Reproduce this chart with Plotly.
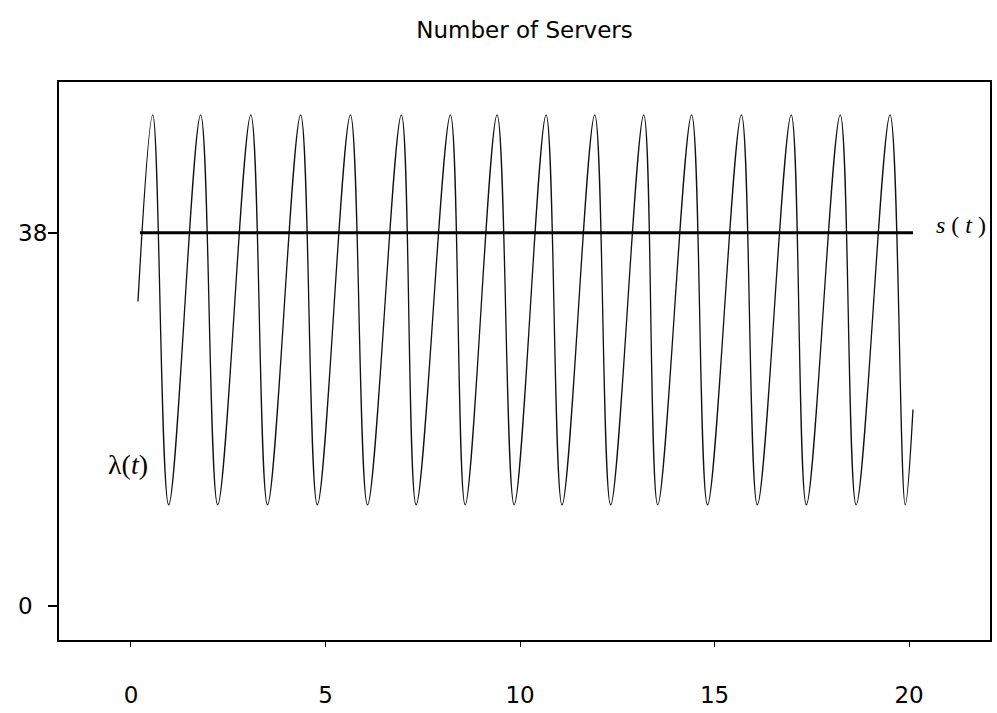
import plotly.graph_objects as go

# Peak / trough times (t) and values
peak_t = [0.56, 1.79, 3.08, 4.36, 5.64, 6.95, 8.21, 9.41, 10.67, 11.92, 13.18, 14.41, 15.69, 16.97, 18.23, 19.51]
trough_t = [0.97, 2.23, 3.51, 4.79, 6.08, 7.33, 8.59, 9.85, 11.08, 12.33, 13.54, 14.82, 16.10, 17.36, 18.64, 19.90]
peak_val = 50.0
trough_val = 10.3
start_t, start_val = 0.18, 31.0
end_t, end_val = 20.1, 20.0

s_t = [0.23, 20.1]
s_val = [38.0, 38.0]

x_ticks = [0, 5, 10, 15, 20]
y_ticks = [0, 38]

# build the lambda(t) polyline from the read extrema
lam_t = [start_t]
lam_v = [start_val]
for p, tr in zip(peak_t, trough_t):
    lam_t += [p, tr]
    lam_v += [peak_val, trough_val]
lam_t.append(end_t)
lam_v.append(end_val)

FONT = "DejaVu Sans"

fig = go.Figure()
fig.add_trace(go.Scatter(x=lam_t, y=lam_v, mode="lines", line=dict(color="#111", width=1.3, shape="spline", smoothing=1.0),
                         showlegend=False, hoverinfo="skip"))
fig.add_trace(go.Scatter(x=s_t, y=s_val, mode="lines", line=dict(color="#000", width=2.8),
                         showlegend=False, hoverinfo="skip"))

fig.add_annotation(x=20.65, y=38.8, xref="x", yref="y", text="<i>s</i> ( <i>t</i> )", showarrow=False,
                   xanchor="left", yanchor="middle", font=dict(family="Liberation Serif", size=24, color="#000"))
fig.add_annotation(x=0.48, y=14.4, xref="x", yref="y", text="λ(<i>t</i>)", showarrow=False,
                   xanchor="right", yanchor="middle", font=dict(family="Liberation Serif", size=28, color="#000"))

# y tick labels, left aligned as in the reference
for v in y_ticks:
    fig.add_annotation(x=-43 / 938, y=v, xref="paper", yref="y", text=str(v), showarrow=False,
                       xanchor="left", yanchor="middle", font=dict(family=FONT, size=23, color="#000"))

fig.update_layout(
    width=997, height=713,
    margin=dict(l=59, r=5, t=82, b=72),
    paper_bgcolor="white", plot_bgcolor="white",
    title=dict(text="Number of Servers", x=0.5, xref="paper", y=1 - 30 / 713, yref="container",
               xanchor="center", yanchor="middle",
               font=dict(family=FONT, size=23, color="#000")),
    xaxis=dict(range=[-1.85, 22.08], tickvals=x_ticks, ticktext=[str(v) for v in x_ticks],
               showgrid=False, zeroline=False, showline=True, linecolor="#000", linewidth=2, mirror=True,
               ticks="outside", ticklen=5, tickwidth=1, tickcolor="#000", ticklabelstandoff=28,
               tickfont=dict(family=FONT, size=23, color="#000")),
    yaxis=dict(range=[-3.46, 53.35], tickvals=y_ticks, showticklabels=False,
               showgrid=False, zeroline=False, showline=True, linecolor="#000", linewidth=2, mirror=True,
               ticks="outside", ticklen=9, tickwidth=1.5, tickcolor="#000"),
)

fig.write_html("out.html")
